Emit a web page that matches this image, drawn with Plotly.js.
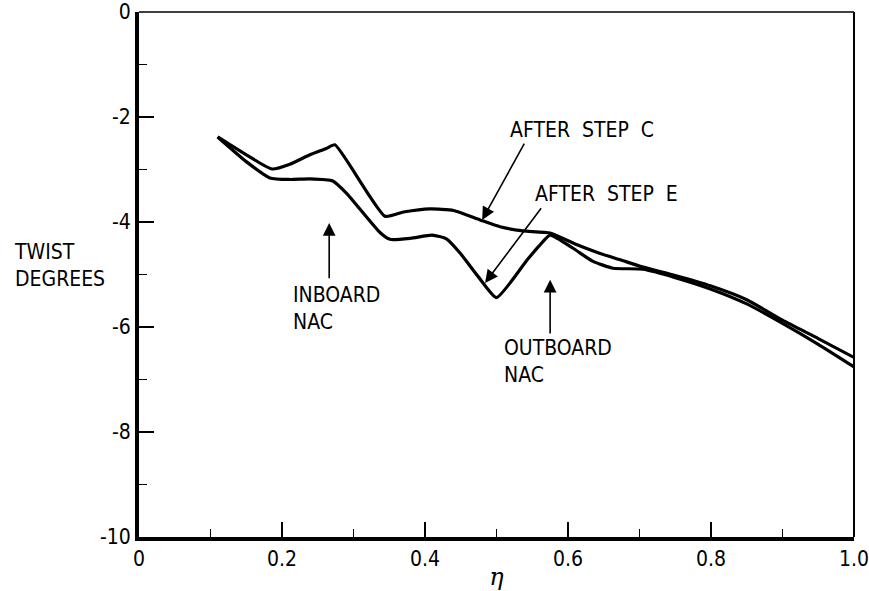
<!DOCTYPE html>
<html>
<head>
<meta charset="utf-8">
<script src="https://cdn.plot.ly/plotly-3.0.1.min.js"></script>
<style>html,body{margin:0;padding:0;background:#fff;}#chart{width:869px;height:591px;}</style>
</head>
<body>
<div id="chart"></div>
<script>
// Data
const etaStepC = [0.11, 0.15, 0.186, 0.211, 0.239, 0.262, 0.274, 0.344, 0.37, 0.407, 0.44, 0.477, 0.505, 0.537, 0.575, 0.61, 0.645, 0.673, 0.705, 0.75, 0.80, 0.85, 0.90, 0.95, 1.0];
const twistStepC = [-2.38, -2.72, -2.99, -2.90, -2.72, -2.60, -2.53, -3.89, -3.81, -3.75, -3.78, -3.96, -4.09, -4.17, -4.21, -4.42, -4.60, -4.72, -4.86, -5.02, -5.22, -5.48, -5.87, -6.22, -6.58];
const etaStepE = [0.11, 0.15, 0.183, 0.211, 0.239, 0.271, 0.29, 0.337, 0.351, 0.38, 0.41, 0.43, 0.449, 0.475, 0.50, 0.543, 0.56, 0.575, 0.607, 0.635, 0.663, 0.705, 0.75, 0.80, 0.85, 0.90, 0.95, 1.0];
const twistStepE = [-2.38, -2.85, -3.16, -3.19, -3.18, -3.22, -3.45, -4.20, -4.33, -4.31, -4.25, -4.32, -4.59, -5.05, -5.44, -4.72, -4.45, -4.25, -4.50, -4.75, -4.88, -4.90, -5.06, -5.28, -5.56, -5.93, -6.33, -6.76];

const xTickVals = [0, 0.2, 0.4, 0.6, 0.8, 1.0];
const xTickText = ["0", "0.2", "0.4", "0.6", "0.8", "1.0"];
const yTickVals = [0, -2, -4, -6, -8, -10];
const yTickText = ["0", "-2", "-4", "-6", "-8", "-10"];

const FONT = "DejaVu Sans Condensed, Liberation Sans Narrow, Arial Narrow, sans-serif";

const traces = [
  {x: etaStepC, y: twistStepC, mode: "lines", line: {color: "#000", width: 3.2, shape: "spline", smoothing: 0.5}, name: "After step C"},
  {x: etaStepE, y: twistStepE, mode: "lines", line: {color: "#000", width: 3.2, shape: "spline", smoothing: 0.5}, name: "After step E"}
];

function arrow(tipX, tipY, tailX, tailY) {
  return {x: tipX, y: tipY, ax: tailX, ay: tailY, xref: "x", yref: "y", axref: "x", ayref: "y",
          text: "", showarrow: true, arrowhead: 2, arrowsize: 1.6, arrowwidth: 1.6, arrowcolor: "#000"};
}
function label(x, y, text, xref) {
  return {x: x, y: y, xref: xref || "x", yref: "y", text: text, showarrow: false,
          xanchor: "left", yanchor: "middle", align: "left",
          font: {family: FONT, size: 21, color: "#000"}};
}

const layout = {
  width: 869, height: 591,
  margin: {l: 139, r: 15, t: 12, b: 54},
  paper_bgcolor: "#fff", plot_bgcolor: "#fff",
  showlegend: false,
  font: {family: FONT, size: 21, color: "#000"},
  xaxis: {
    range: [0, 1], tickvals: xTickVals, ticktext: xTickText,
    ticks: "inside", ticklen: 15, tickwidth: 1.5, tickcolor: "#000",
    minor: {dtick: 0.1, ticks: "inside", ticklen: 8, tickwidth: 1.5, tickcolor: "#000"},
    showline: true, linewidth: 4, linecolor: "#000", showgrid: false, zeroline: false,
    tickfont: {family: FONT, size: 21}, ticklabeloverflow: "allow",
    title: {text: "<i>η</i>", font: {family: "DejaVu Serif, serif", size: 24}, standoff: 2}
  },
  yaxis: {
    range: [-10, 0], tickvals: yTickVals, ticktext: yTickText,
    ticks: "inside", ticklen: 15, tickwidth: 1.5, tickcolor: "#000",
    minor: {dtick: 1, ticks: "inside", ticklen: 8, tickwidth: 1.5, tickcolor: "#000"},
    showline: true, linewidth: 4, linecolor: "#000", showgrid: false, zeroline: false,
    tickfont: {family: FONT, size: 21}, ticklabeloverflow: "allow"
  },
  shapes: [
    {type: "line", xref: "paper", yref: "paper", x0: 0, x1: 1, y0: 1, y1: 1, line: {color: "#000", width: 1.5}},
    {type: "line", xref: "paper", yref: "paper", x0: 1, x1: 1, y0: 0, y1: 1, line: {color: "#000", width: 2}}
  ],
  annotations: [
    arrow(0.480, -3.96, 0.540, -2.48),
    arrow(0.484, -5.16, 0.564, -3.71),
    arrow(0.266, -4.02, 0.266, -5.10),
    arrow(0.575, -5.10, 0.575, -6.15),
    label(0.516, -2.25, "AFTER  STEP  C"),
    label(0.551, -3.47, "AFTER  STEP  E"),
    label(0.213, -5.64, "INBOARD<br>NAC"),
    label(0.508, -6.65, "OUTBOARD<br>NAC"),
    label(-0.178, -4.82, "TWIST<br>DEGREES", "paper")
  ]
};

Plotly.newPlot("chart", traces, layout, {staticPlot: true, displayModeBar: false});
</script>
</body>
</html>
